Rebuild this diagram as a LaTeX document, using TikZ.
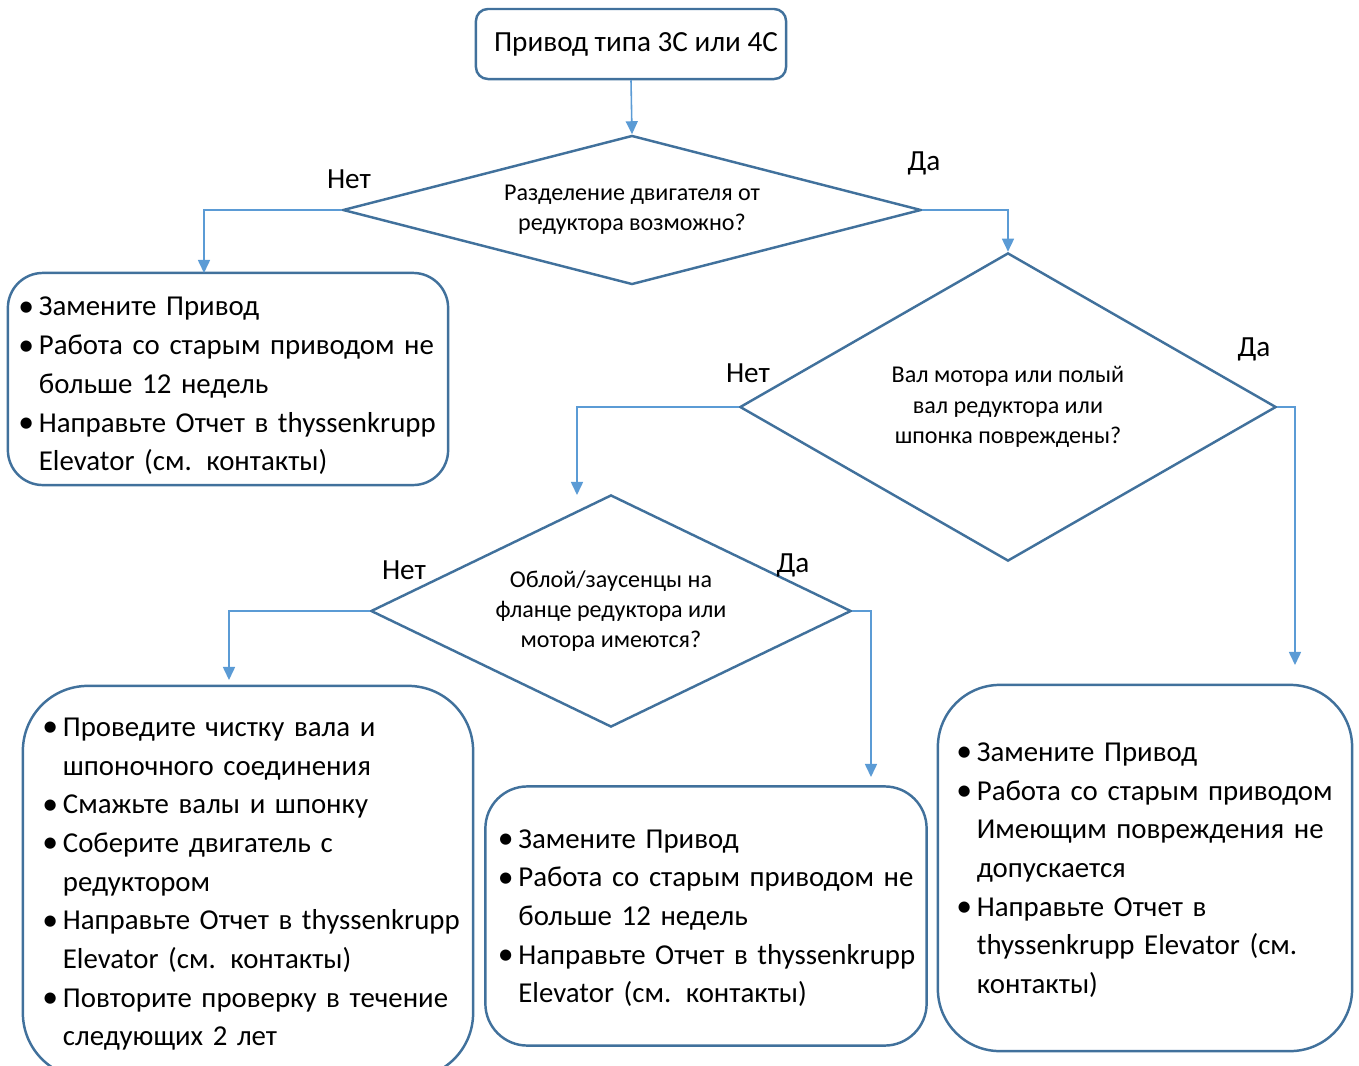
\documentclass[tikz,border=0pt]{standalone}
\usepackage{fontspec}
\setmainfont{Carlito}
\usetikzlibrary{shapes.geometric,arrows.meta}
\definecolor{flowline}{HTML}{41719C}
\definecolor{flowarrow}{HTML}{5B9BD5}
\tikzset{
  flowbox/.style={draw=flowline,line width=0.7pt,rounded corners=#1,inner sep=0pt,
    align=left,font=\fontsize{8.2}{11}\selectfont},
  flowdec/.style={diamond,draw=flowline,line width=0.7pt,inner sep=0pt,
    align=center,font=\fontsize{6.85}{8.6}\selectfont},
  flowconn/.style={draw=flowarrow,line width=0.45pt,-{Triangle[width=0.12cm,length=0.13cm]}},
  flowlabel/.style={inner sep=0pt,font=\fontsize{8.3}{11}\selectfont}
}
\newcommand{\bul}[1]{\makebox[0.17cm][l]{\hspace*{-0.035cm}\raisebox{-0.1pt}{\fontsize{9}{9}\selectfont\textbullet}}\mbox{#1}}
\newcommand{\cnt}[1]{\hspace*{0.17cm}\mbox{#1}}
\newcommand{\lift}[1]{\rule{0pt}{#1}}

\begin{document}
\begin{tikzpicture}[x=0.01cm,y=-0.01cm]
  \useasboundingbox (0,0) rectangle (1359,1066);
  \node[flowbox=0.12cm,align=center,minimum width=3.10cm,minimum height=0.70cm,
    font=\fontsize{8.3}{11}\selectfont]
    (start) at (631,44) {\hspace*{0.1cm}Привод типа 3С или 4С};
  \node[flowdec,aspect=3.88,minimum width=5.78cm,minimum height=1.49cm] (sep) at (632,210)
    {Разделение двигателя от\\редуктора возможно?};
  \node[flowdec,aspect=1.74,minimum width=5.36cm,minimum height=3.08cm] (shaft) at (1008,407)
    {Вал мотора или полый\\вал редуктора или\\шпонка повреждены?};
  \node[flowdec,aspect=2.07,minimum width=4.80cm,minimum height=2.32cm] (burr) at (611,611)
    {Облой/заусенцы на\\фланце редуктора или\\мотора имеются?};
  \node[flowbox=0.35cm,text width=4.12cm,minimum width=4.40cm,minimum height=2.12cm]
    (replaceA) at (228,379)
    {\lift{9.3pt}\bul{Замените Привод}\\
     \bul{Работа со старым приводом не}\\
     \cnt{больше 12 недель}\\
     \bul{Направьте Отчет в thyssenkrupp}\\
     \cnt{Elevator (см. контакты)}};
  \node[flowbox=0.65cm,text width=4.04cm,minimum width=4.50cm,minimum height=3.92cm]
    (clean) at (248,882)
    {\lift{6.5pt}\bul{Проведите чистку вала и}\\
     \cnt{шпоночного соединения}\\
     \bul{Смажьте валы и шпонку}\\
     \bul{Соберите двигатель с}\\
     \cnt{редуктором}\\
     \bul{Направьте Отчет в thyssenkrupp}\\
     \cnt{Elevator (см. контакты)}\\
     \bul{Повторите проверку в течение}\\
     \cnt{следующих 2 лет}};
  \node[flowbox=0.42cm,text width=4.09cm,minimum width=4.41cm,minimum height=2.59cm]
    (replaceB) at (706,916)
    {\lift{6.5pt}\bul{Замените Привод}\\
     \bul{Работа со старым приводом не}\\
     \cnt{больше 12 недель}\\
     \bul{Направьте Отчет в thyssenkrupp}\\
     \cnt{Elevator (см. контакты)}};
  \node[flowbox=0.62cm,text width=3.70cm,minimum width=4.14cm,minimum height=3.66cm]
    (replaceC) at (1145,868)
    {\lift{6.5pt}\bul{Замените Привод}\\
     \bul{Работа со старым приводом}\\
     \cnt{Имеющим повреждения не}\\
     \cnt{допускается}\\
     \bul{Направьте Отчет в}\\
     \cnt{thyssenkrupp Elevator (см.}\\
     \cnt{контакты)}};
  % free ends of the arrows
  \coordinate (replaceAin) at (204,273);
  \coordinate (burrin) at (577,495);
  \coordinate (cleanin) at (229,680);
  \coordinate (replaceBin) at (871,777);
  \coordinate (replaceCin) at (1295,665);
  \draw[flowconn] (start.south) -- (sep.north);
  \draw[flowconn] (sep.west) -| (replaceAin);
  \draw[flowconn] (sep.east) -| (shaft.north);
  \draw[flowconn] (shaft.west) -| (burrin);
  \draw[flowconn] (shaft.east) -| (replaceCin);
  \draw[flowconn] (burr.west) -| (cleanin);
  \draw[flowconn] (burr.east) -| (replaceBin);
  \node[flowlabel] (sepno) at (349,179) {Нет};
  \node[flowlabel] (sepyes) at (924,163) {Да};
  \node[flowlabel] (shaftno) at (748,373) {Нет};
  \node[flowlabel] (shaftyes) at (1254,349) {Да};
  \node[flowlabel] (burrno) at (404,570) {Нет};
  \node[flowlabel] (burryes) at (793,565) {Да};
\end{tikzpicture}
\end{document}
